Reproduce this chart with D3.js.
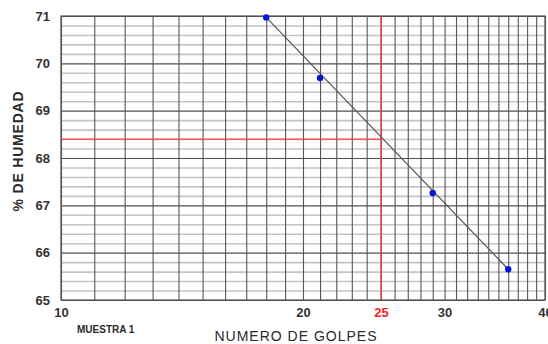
<!DOCTYPE html>
<html>
<head>
<meta charset="utf-8">
<script src="https://cdn.jsdelivr.net/npm/d3@7"></script>
<style>
  html, body { margin: 0; padding: 0; background: #ffffff; }
  svg { display: block; font-family: "Liberation Sans", Arial, sans-serif; }
</style>
</head>
<body>
<svg id="chart" width="548" height="344"></svg>
<script>
// Ensayo de límite líquido: número de golpes vs. % de humedad
const golpes = [18, 21, 29, 36];
const humedad = [70.97, 69.69, 67.26, 65.65];
const xTickValues = [10, 20, 25, 30, 40];
const yTickValues = [65, 66, 67, 68, 69, 70, 71];
const golpesRef = 25;
const humedadRef = 68.4;

const svg = d3.select("#chart");
const plotLeft = 61, plotRight = 545, plotTop = 16, plotBottom = 300;

const x = d3.scaleLog().domain([10, 40]).range([plotLeft, plotRight]);
const y = d3.scaleLinear().domain([65, 71]).range([plotBottom, plotTop]);

// horizontal grid every 0.2 %
const hMinor = d3.range(0, 31).map(i => 65 + i * 0.2).filter(v => Math.abs(v - Math.round(v)) > 1e-6);
svg.append("g")
  .attr("transform", `translate(${plotLeft},0)`)
  .call(d3.axisLeft(y).tickValues(hMinor).tickSize(-(plotRight - plotLeft)).tickFormat(""))
  .call(g => g.select(".domain").remove())
  .call(g => g.selectAll("line").attr("stroke", "#c4c4c4").attr("stroke-width", 1.6));

svg.append("g")
  .attr("transform", `translate(${plotLeft},0)`)
  .call(d3.axisLeft(y).tickValues(yTickValues).tickSize(-(plotRight - plotLeft)).tickFormat(""))
  .call(g => g.select(".domain").remove())
  .call(g => g.selectAll("line").attr("stroke", "#505050").attr("stroke-width", 1.1));

// vertical grid at every whole number of blows
const vLines = d3.range(10, 41);
svg.append("g")
  .attr("transform", `translate(0,${plotBottom})`)
  .call(d3.axisBottom(x).tickValues(vLines).tickSize(-(plotBottom - plotTop)).tickFormat(""))
  .call(g => g.select(".domain").remove())
  .call(g => g.selectAll("line").attr("stroke", "#555555").attr("stroke-width", 1.1));

// plot frame
svg.append("rect")
  .attr("x", plotLeft).attr("y", plotTop)
  .attr("width", plotRight - plotLeft).attr("height", plotBottom - plotTop)
  .attr("fill", "none").attr("stroke", "#505050").attr("stroke-width", 1.2);

// reference lines at 25 blows
svg.append("line")
  .attr("x1", x(golpesRef)).attr("x2", x(golpesRef))
  .attr("y1", y(65)).attr("y2", y(71))
  .attr("stroke", "#ff4040").attr("stroke-width", 1.3);
svg.append("line")
  .attr("x1", x(10)).attr("x2", x(golpesRef))
  .attr("y1", y(humedadRef)).attr("y2", y(humedadRef))
  .attr("stroke", "#ff4040").attr("stroke-width", 1.3);

// flow line through the first and last tests
const n = golpes.length;
svg.append("line")
  .attr("x1", x(golpes[0])).attr("y1", y(humedad[0]))
  .attr("x2", x(golpes[n - 1])).attr("y2", y(humedad[n - 1]))
  .attr("stroke", "#555555").attr("stroke-width", 1.2);

svg.append("g").selectAll("circle")
  .data(golpes)
  .join("circle")
  .attr("cx", d => x(d))
  .attr("cy", (d, i) => y(humedad[i]))
  .attr("r", 3.2)
  .attr("fill", "#0a14d8");

// axis tick labels
const yAxis = svg.append("g")
  .attr("transform", `translate(50,0)`)
  .call(d3.axisLeft(y).tickValues(yTickValues).tickSize(0).tickPadding(0).tickFormat(d3.format("d")));
yAxis.select(".domain").remove();
yAxis.selectAll("text")
  .attr("font-family", "Liberation Sans, Arial, sans-serif")
  .attr("font-size", 13).attr("font-weight", "bold").attr("fill", "#333333");

const xAxis = svg.append("g")
  .attr("transform", `translate(0,${plotBottom})`)
  .call(d3.axisBottom(x).tickValues(xTickValues).tickSize(0).tickPadding(8).tickFormat(d3.format("d")));
xAxis.select(".domain").remove();
xAxis.selectAll("text")
  .attr("font-family", "Liberation Sans, Arial, sans-serif")
  .attr("font-size", 13).attr("font-weight", "bold")
  .attr("fill", d => d === golpesRef ? "#ff2020" : "#333333");

// titles
svg.append("text")
  .attr("x", 296).attr("y", 341)
  .attr("text-anchor", "middle")
  .attr("font-size", 14).attr("letter-spacing", 1)
  .attr("fill", "#2a2a2a")
  .text("NUMERO DE GOLPES");

svg.append("text")
  .attr("x", 77).attr("y", 333)
  .attr("font-size", 10).attr("font-weight", "bold")
  .attr("fill", "#2a2a2a")
  .text("MUESTRA 1");

svg.append("text")
  .attr("transform", "translate(23,151) rotate(-90)")
  .attr("text-anchor", "middle")
  .attr("font-size", 14).attr("font-weight", "bold").attr("letter-spacing", 0.8)
  .attr("fill", "#2a2a2a")
  .text("% DE HUMEDAD");
</script>
</body>
</html>
